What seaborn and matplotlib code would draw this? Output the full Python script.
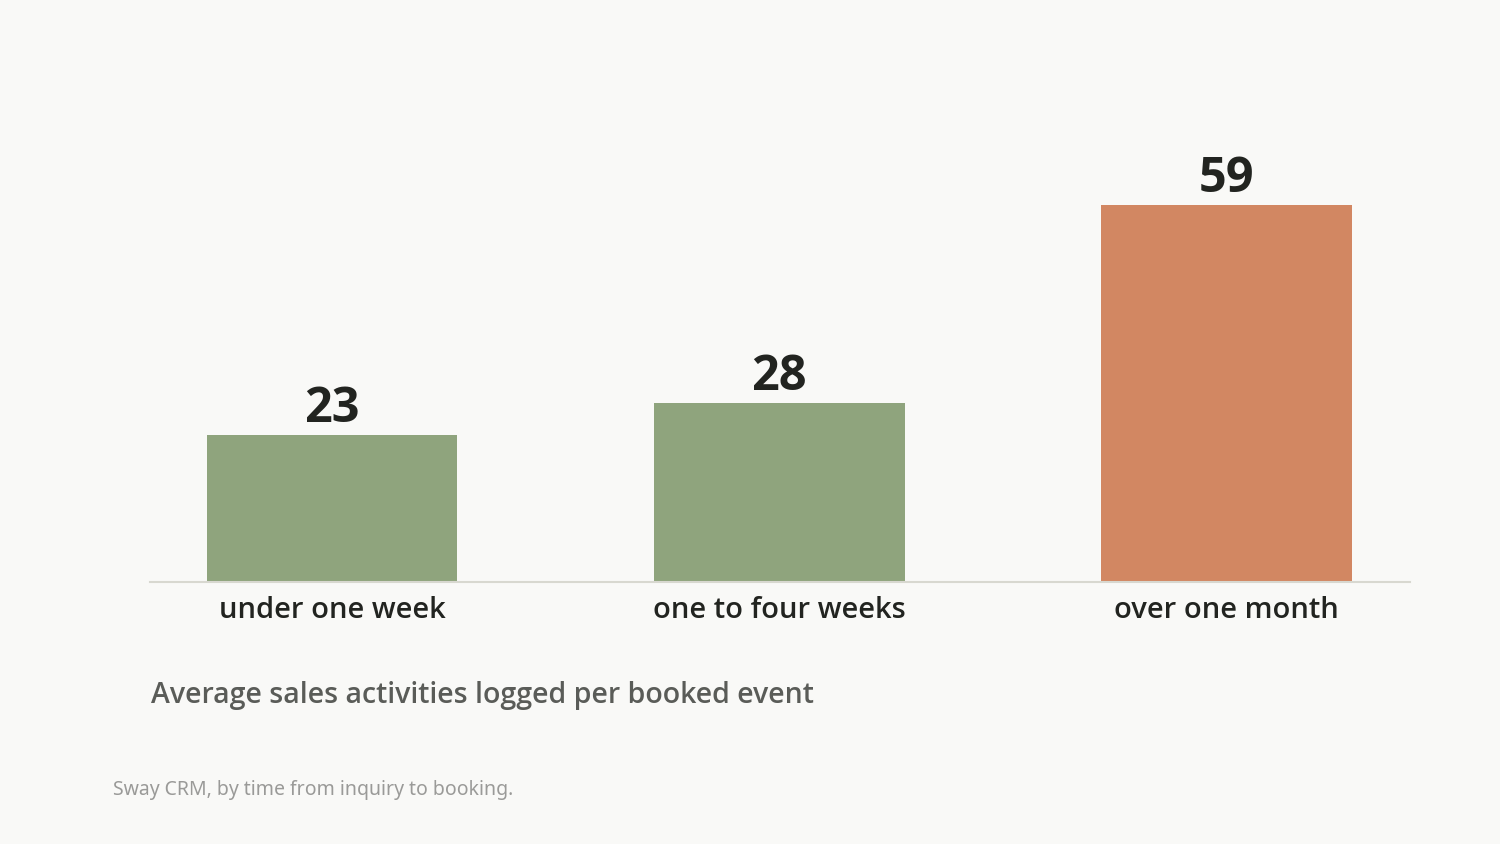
import matplotlib
matplotlib.use("Agg")
from matplotlib import pyplot as plt
import seaborn as sns
import pandas as pd

# data
categories = ["under one week", "one to four weeks", "over one month"]
activities = [23, 28, 59]
bar_colors = ["#8FA47D", "#8FA47D", "#D28762"]

subtitle = "Average sales activities logged per booked event"
footnote = "Sway CRM, by time from inquiry to booking."

bg = "#F9F9F7"
ink = "#222420"

sns.set_theme(style="white")
plt.rcParams["font.family"] = ["Open Sans", "DejaVu Sans"]

df = pd.DataFrame({"window": categories, "activities": activities})

fig = plt.figure(figsize=(15, 8.44), dpi=100)
fig.patch.set_facecolor(bg)
ax = fig.add_axes([0.1, 0.3104, 0.84, 0.571])
ax.set_facecolor(bg)

sns.barplot(ax=ax, data=df, x="window", y="activities", hue="window",
            palette=dict(zip(categories, bar_colors)), width=0.56,
            legend=False, saturation=1, linewidth=0)

ax.set_xlim(-0.407, 2.41)
ax.set_ylim(0, 75.4)

for i, v in enumerate(activities):
    ax.annotate(str(v), (i, v), xytext=(0, 1), textcoords="offset points",
                ha="center", va="bottom", fontsize=35, fontweight="bold",
                color=ink)

for s in ["top", "right", "left"]:
    ax.spines[s].set_visible(False)
ax.spines["bottom"].set_color("#D8D8D0")
ax.spines["bottom"].set_linewidth(1.5)
ax.set_yticks([])
ax.set_xlabel(None)
ax.set_ylabel(None)
ax.tick_params(axis="x", length=0, pad=10, labelsize=21, labelcolor=ink)
for lab in ax.get_xticklabels():
    lab.set_fontweight("semibold")

fig.text(0.1007, 1 - 695 / 844, subtitle, ha="left", va="center",
         fontsize=20.5, fontweight="semibold", color="#5A5C58")
fig.text(0.0753, 1 - 790 / 844, footnote, ha="left", va="center",
         fontsize=14, color="#9A9A98", family=["Noto Sans", "DejaVu Sans"])

fig.savefig("out.png", dpi=100, facecolor=bg)
